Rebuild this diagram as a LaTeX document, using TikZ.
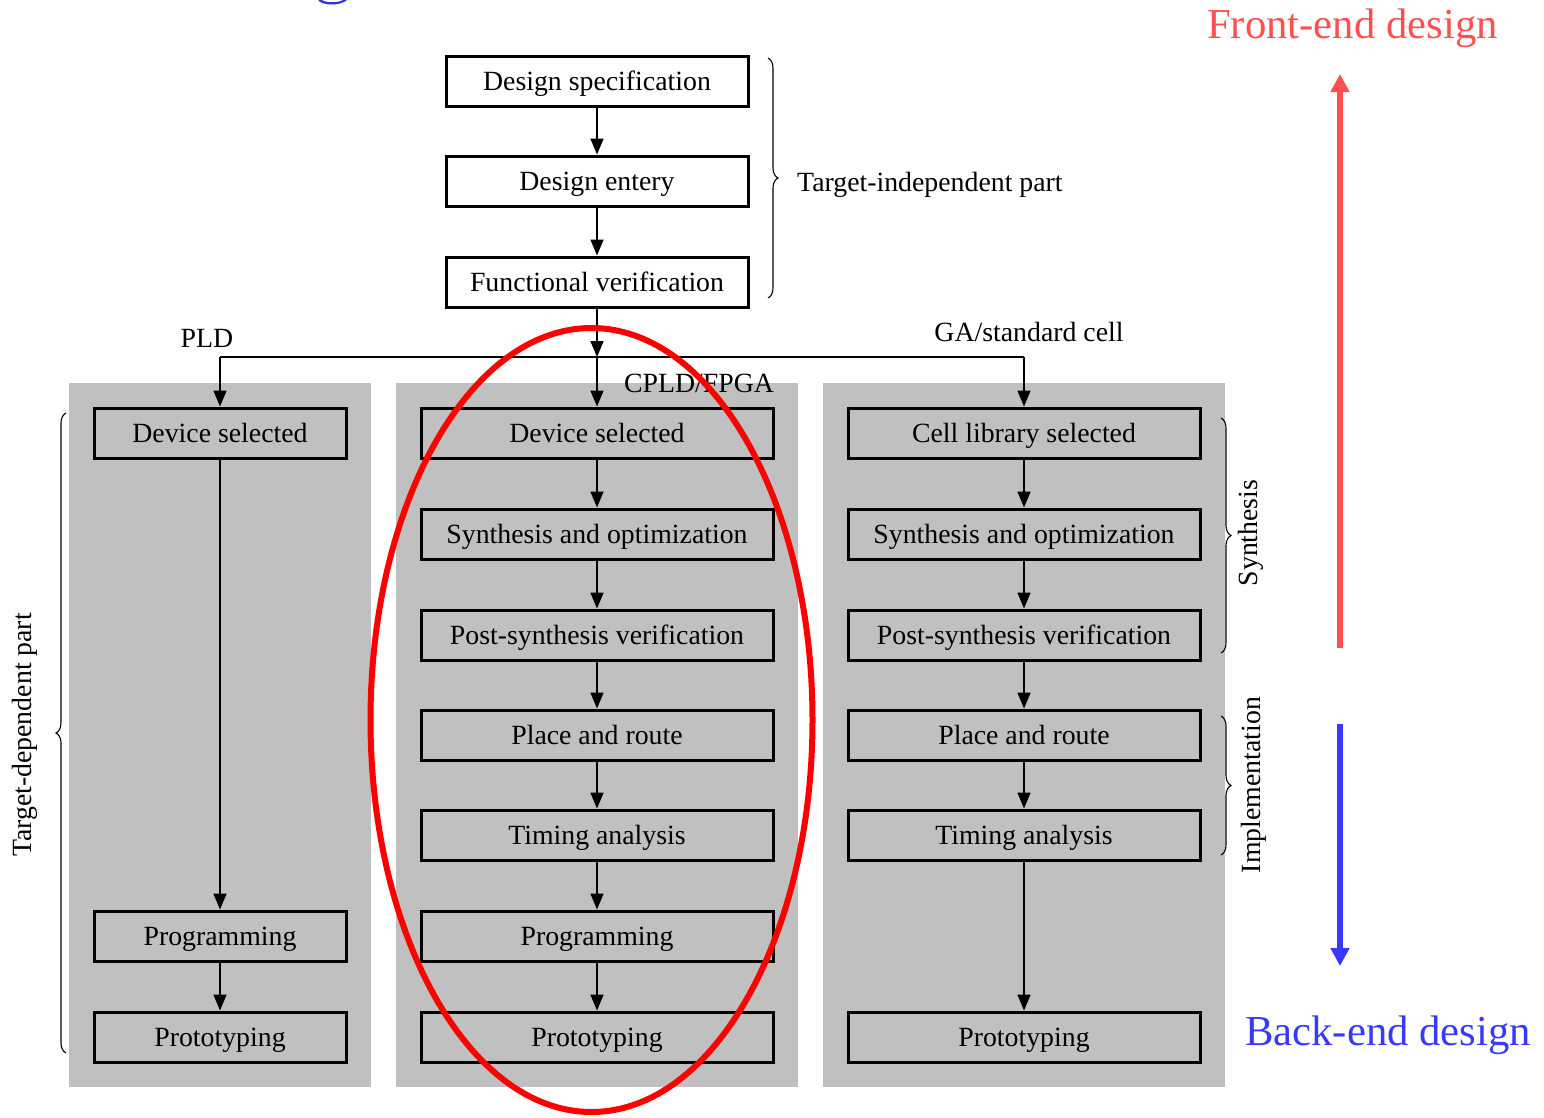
\documentclass[tikz,border=0pt]{standalone}
\usepackage{fontspec}
\setmainfont{Liberation Serif}
\usetikzlibrary{arrows.meta,decorations.pathreplacing,positioning}
\definecolor{panelgray}{HTML}{C0C0C0}
\definecolor{frontred}{HTML}{FF5050}
\definecolor{backblue}{HTML}{3838FF}
\tikzset{
  stepbox/.style={draw=black, line width=3pt, fill=panelgray, minimum height=50pt,
    inner sep=0pt, text height=25pt, text depth=6.7pt,
    font=\fontsize{27.8}{32}\selectfont},
  topbox/.style={stepbox, fill=white, minimum width=302pt},
  leftbox/.style={stepbox, minimum width=252pt},
  midbox/.style={stepbox, minimum width=352pt},
  flow/.style={line width=1.6pt, -{Triangle[length=16pt,width=13pt]}},
  plain/.style={line width=1.6pt},
  panel/.style={fill=panelgray, draw=none},
  lbl/.style={font=\fontsize{27.8}{32}\selectfont, inner sep=0pt},
  biglbl/.style={font=\fontsize{42.7}{50}\selectfont, inner sep=0pt, anchor=base},
  bracestyle/.style={decorate, line width=1.1pt, decoration={brace, amplitude=10pt}},
}
\begin{document}
\begin{tikzpicture}[x=1pt, y=-1pt]
\useasboundingbox (0,0) rectangle (1544,1117);

% fragment of a blue glyph at the upper edge
\fill[backblue!90!black] (318,0) .. controls (322,6) and (341,6) .. (347,0) -- (343,0) .. controls (338,3) and (326,3) .. (322,0) -- cycle;

% grey background panels
\fill[panel] (69,383) rectangle (371,1087);
\fill[panel] (396,383) rectangle (798,1087);
\fill[panel] (823,383) rectangle (1225,1087);

% target-independent steps
\node[topbox] (spec) at (597,81) {Design specification};
\node[topbox] (entry) at (597,181) {Design entery};
\node[topbox] (func) at (597,282) {Functional verification};

% PLD column
\node[leftbox] (pds) at (220,433) {Device selected};
\node[leftbox] (pprog) at (220,936) {Programming};
\node[leftbox] (pproto) at (220,1037) {Prototyping};

% CPLD/FPGA column
\node[midbox] (fds) at (597,433) {Device selected};
\node[midbox] (fsyn) at (597,534) {Synthesis and optimization};
\node[midbox] (fpost) at (597,635) {Post-synthesis verification};
\node[midbox] (fpr) at (597,735) {Place and route};
\node[midbox] (fta) at (597,835) {Timing analysis};
\node[midbox] (fprog) at (597,936) {Programming};
\node[midbox] (fproto) at (597,1037) {Prototyping};

% GA/standard cell column
\node[midbox] (gcl) at (1024,433) {Cell library selected};
\node[midbox] (gsyn) at (1024,534) {Synthesis and optimization};
\node[midbox] (gpost) at (1024,635) {Post-synthesis verification};
\node[midbox] (gpr) at (1024,735) {Place and route};
\node[midbox] (gta) at (1024,835) {Timing analysis};
\node[midbox] (gproto) at (1024,1037) {Prototyping};

% branch point
\coordinate (split) at (597,357);
\coordinate (splitL) at (220,357);
\coordinate (splitR) at (1024,357);

% flow connectors
\draw[flow] (spec) -- (entry);
\draw[flow] (entry) -- (func);
\draw[flow] (func) -- (split);
\draw[plain] (splitL) -- (splitR);
\draw[flow] (splitL) -- (pds);
\draw[flow] (split) -- (fds);
\draw[flow] (splitR) -- (gcl);

\draw[flow] (pds) -- (pprog);
\draw[flow] (pprog) -- (pproto);

\draw[flow] (fds) -- (fsyn);
\draw[flow] (fsyn) -- (fpost);
\draw[flow] (fpost) -- (fpr);
\draw[flow] (fpr) -- (fta);
\draw[flow] (fta) -- (fprog);
\draw[flow] (fprog) -- (fproto);

\draw[flow] (gcl) -- (gsyn);
\draw[flow] (gsyn) -- (gpost);
\draw[flow] (gpost) -- (gpr);
\draw[flow] (gpr) -- (gta);
\draw[flow] (gta) -- (gproto);

% branch labels
\node[lbl, anchor=base] (pld) at (207,347) {PLD};
\node[lbl, anchor=base] (ga) at (1029,341) {GA/standard cell};
\node[lbl, anchor=base] (cpld) at (699,392) {CPLD/FPGA};

% braces
\coordinate (tiA) at (768,58);
\coordinate (tiB) at (768,298);
\draw[bracestyle] (tiA) -- (tiB);
\node[lbl, anchor=base west] (tilbl) at (797,191) {Target-independent part};

\coordinate (tdA) at (66,1053);
\coordinate (tdB) at (66,413);
\draw[bracestyle] (tdA) -- (tdB);
\node[lbl, rotate=90] (tdlbl) at (25,735) {Target-dependent part};

\coordinate (syA) at (1221,418);
\coordinate (syB) at (1221,653);
\draw[bracestyle] (syA) -- (syB);
\node[lbl, rotate=90] (sylbl) at (1251,533) {Synthesis};

\coordinate (imA) at (1221,716);
\coordinate (imB) at (1221,855);
\draw[bracestyle] (imA) -- (imB);
\node[lbl, rotate=90] (imlbl) at (1254,785) {Implementation};

% highlight of the CPLD/FPGA flow
\draw[red, line width=6pt] (591.5,720) ellipse [x radius=221, y radius=392];

% front-end / back-end direction arrows
\coordinate (feA) at (1340,648);
\coordinate (feB) at (1340,74);
\draw[frontred, line width=6pt, -{Triangle[length=18pt,width=18pt]}] (feA) -- (feB);
\node[biglbl, text=frontred] (fe) at (1352.5,38) {Front-end design};

\coordinate (beA) at (1340,724);
\coordinate (beB) at (1340,966);
\draw[backblue, line width=6pt, -{Triangle[length=18pt,width=18pt]}] (beA) -- (beB);
\node[biglbl, text=backblue] (be) at (1388,1045) {Back-end design};
\end{tikzpicture}
\end{document}
